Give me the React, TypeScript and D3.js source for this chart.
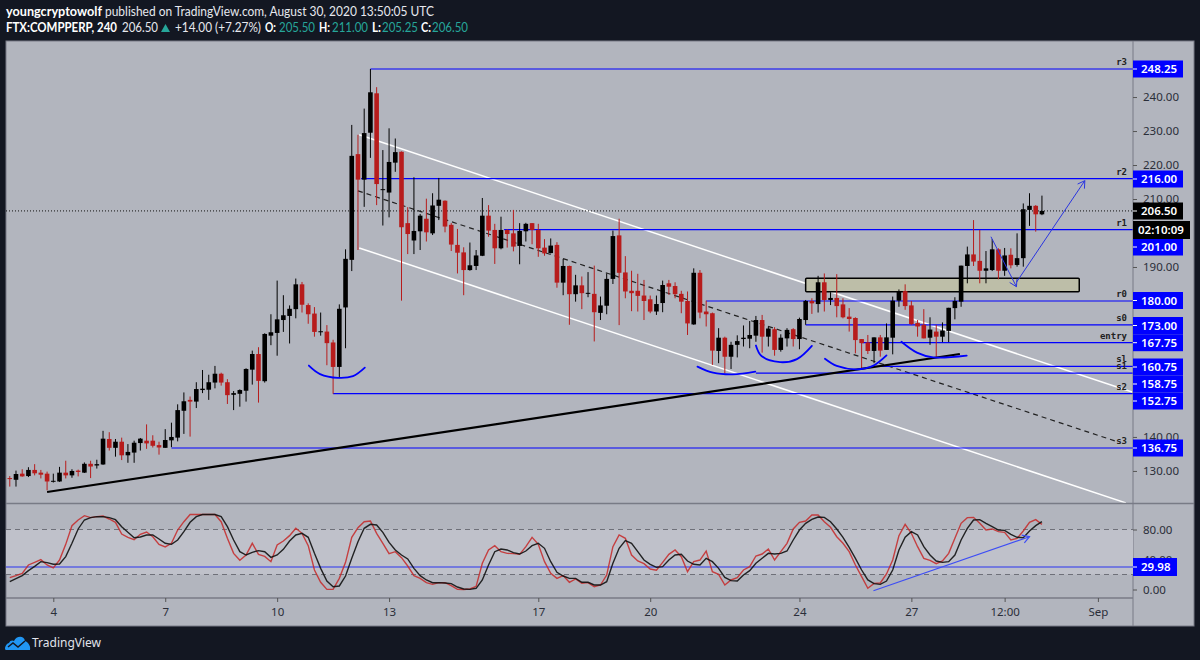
import React, { useEffect, useRef } from "react";
import * as d3 from "d3";

// bar 0 is Aug 4 00:00, one bar every 4 hours
const firstBar = -7;

const opens = [127.9,127.4,129.2,128.5,130.3,129.5,129.2,
  126.9,126.9,129.5,128.7,130.1,129.5,132.1,131.6,131.9,139.4,
  136.8,138.6,134.6,135.4,138.2,138.9,138.9,137.6,136.8,139,
  139.8,147.7,150.9,150.4,153.8,153.9,156,158.6,156.1,152.4,
  152.7,153.6,159.8,164.4,156.4,169.8,170.6,174.4,175.6,177.6,
  184.9,178.8,176.3,170.8,171,167.8,160.6,178.1,192.1,223.2,
  215.7,229.5,241.1,212.7,211.9,220.7,223.9,202.9,197.8,200.5,
  204.2,199.9,208,209.5,202.4,196.5,194.3,189.1,190.3,193.3,
  205.1,200.9,195.5,200.9,199.9,196.2,200.5,202.9,200.9,195.7,
  194.1,196.5,185.4,190.3,182,184.6,182.1,182.1,176.5,178.6,
  186.5,199.3,188.4,183,183,181.6,180.5,176.9,179.4,185.2,
  184.4,182.1,180,173.1,188.3,176.9,176.4,165.3,169.2,163.6,
  167.1,168.8,168.9,169.8,174.4,169.5,171.7,165.6,169,171.7,
  168.8,174.4,180,179.1,185.5,180.3,180.9,179,175.4,175,
  168.8,167.8,165.3,169.3,165.6,169.2,180.1,182.9,178.7,173.5,
  173,169.2,171,169.5,171.2,177.9,179.8,190.3,193.7,191.8,
  188.9,189.1,195.2,188.9,193.6,190.6,192.6,206.8,208,205.5];

const highs = [128.5,130.1,130.5,131.1,132,130.3,129.8,
  129.2,131.2,133,130.5,130.4,132.5,133,133.3,141.8,141.4,
  139.4,139.8,137.9,138.9,139.7,143.7,140.5,138.6,142.3,144.2,
  149.6,153.1,151.9,156.1,159.7,158.3,160.9,158.9,157,153.5,
  154,160.2,165.4,166.4,170.5,176.1,186,181.7,178.7,186.6,
  185.6,179.3,178.2,176.6,172.9,168.6,179,195.2,231.8,228.9,
  236.6,248.25,242.9,224.4,230.8,227.8,224,207.6,216.4,205.6,
  210.1,211.7,216.2,209.6,202.9,201.2,195.8,197.2,195,210.3,
  208.2,202.7,204.8,201.1,206.8,202.9,203,202.9,202.7,198.2,
  198.4,197.3,192.4,190.4,187.7,187.2,188.5,190.4,181.3,188.1,
  200.7,204.2,193.2,188.9,188,186.2,181.6,181.6,186,186.2,
  185.5,183,182.8,189.6,189.1,180.1,176.6,172,169.5,168,
  169.9,172.8,174.1,175.6,175.9,172.5,172.3,170.2,172,172,
  175.1,180.3,180.8,187.4,188.1,182.6,187.9,180.8,177.9,175.2,
  168.8,170,169.3,170,173.4,181.3,183.4,184.9,180,174.4,
  177.6,175.2,173,173.7,178,181.1,190.4,196,203.8,200.9,
  194.7,198.2,195.5,195.6,195.5,199.9,208.7,211.7,208.2,211];

const lows = [125.4,125.4,128.3,128.2,128.7,127.8,124.3,
  126.6,126.8,127.8,128,128.4,129.4,127.9,130.7,131.8,136,
  134.2,133.2,132.4,132.4,136,136.5,136.9,134.8,136.8,137,
  138.7,140.9,140.1,148.5,152.9,150.9,154.3,155.1,149.7,147.9,
  148.9,150.4,155.4,150.1,156,167,163.9,170.9,167.5,174.9,
  176.6,173.3,169.5,169.8,161.1,152.7,157.6,166.1,188.8,195,
  207.7,222.1,208.2,202.2,204.6,218,180.1,193.8,193.8,195,
  197.5,199.4,203.8,200.2,194.7,188.1,181.7,188.9,189.1,193.2,
  198.9,190.9,195.2,195.7,194.6,190.8,197.5,196.7,193,193.3,
  194,183.9,181.7,173,179.8,177.6,181.1,168.1,174.4,176.1,
  185,172.9,180.8,177,176.9,174.4,176.4,175.9,176.7,181.8,
  180.8,176.4,170,173,174.9,172.5,161.2,161.7,158.7,160,
  163.4,166.6,166.1,168,164.8,166.6,163.9,165.1,166.6,166.6,
  165.8,173,176.2,176.6,176.9,178.8,175.2,174.9,171,164.6,
  160.2,164.4,161.7,163.6,165.6,164.3,178.3,177.4,173,169.5,
  169,167.1,163.6,167.9,167.9,174.6,178.3,185.2,190.3,185.2,
  185.2,188.8,186.4,187.4,189.6,190.1,190.1,202.1,200.4,205.25];

const closes = [127.6,129.1,128.4,130.3,129.3,128.9,126.9,
  127.1,129.5,128.7,130,129.7,132.1,131.3,132,139.5,136.8,
  138.6,134.6,135.6,138.3,139.5,138.1,137.4,136.9,139.1,140,
  147.9,150.5,150.4,154.1,154.2,156.1,158.6,156,152.3,152.9,
  153.8,160,164.4,156.5,170.3,170.8,174.6,175.8,177.7,184.9,
  178.9,176.1,170.9,171.1,167.6,160.6,177.7,192.4,222.7,215.7,
  229.4,241.4,214.4,212.9,220.9,223.8,201.7,199.7,200.6,205.1,
  200.2,208.1,209.8,201.9,196.6,194.2,189.1,190.5,193.4,205.1,
  200.7,195.5,200.9,199.7,196,200.6,202.7,200.9,195.5,194,
  196.3,185.4,190.3,182,184.6,182.3,182.4,176.7,178.7,186.5,
  199.1,188.3,182.8,182.3,181.5,180,176.9,179.1,184.7,184.2,
  182,179.8,173.4,188.3,176.6,176.1,165.4,169.2,163.6,167.1,
  168.2,169.2,170,174.4,169.5,171.9,165.6,169.2,171.5,168.8,
  174.7,180,179.3,185.5,180.3,180.9,178.5,175.2,174.7,168.5,
  167.6,165.3,169.3,165.4,169.3,180.1,182.7,178.5,173.2,172.5,
  169,171.6,169.5,171.3,178,180,190.4,193.7,191.6,188.9,
  189.6,195.2,188.9,193.4,190.5,192.6,207,208,205.5,206.5];

const stochK = [15.8,18.5,21.6,32.7,36.2,39.8,32.7,28.7,39.3,60.2,85.1,92.7,98.4,95.8,97.1,98,94,
  89.5,74,69.6,66.4,73.6,76.7,70.4,60.2,56.7,61.6,79.3,90.4,100,100,100,100,100,90.4,68.2,48.2,
  38.9,46,61.6,46.9,44.2,37.1,59.3,64.7,71.8,81.6,
  74.9,58.4,26,9.6,0.2,0.2,14.9,36.2,69.6,82.4,90.4,91.3,74.9,61.6,47.8,50.4,42.4,31.3,18.5,14.9,
  9.1,6.9,9.1,9.1,5.1,0.2,0,0.7,4.2,34.9,52.7,58.4,50.4,48.2,47.8,46.9,57.1,69.6,60.2,37.1,21.6,
  14.9,18.5,9.6,14,8.2,9.1,3.8,
  6,19.3,57.1,72.7,68.2,46,38,34.4,27.3,25.6,36.2,46.9,52.7,43.8,23.8,37.1,39.3,51.3,23.8,20.2,
  6,12.7,15.8,26,30.4,44.7,47.3,54,39.3,50.4,61.6,80.7,89.6,91.3,99.3,99.3,90.4,82.9,70.4,61.6,
  50.4,32.7,17.1,1.6,8.2,8.7,20.7,39.3,71.8,
  86.9,74.9,57.1,41.6,38.9,34.4,38,48.2,68.2,88.2,95.8,96.2,88.2,79.3,80.7,77.1,76.2,66,68.2,78,89.6,93.1,86.9];

const stochD = [10.4,14.4,18.5,25.1,30.9,37.1,35.8,33.6,34,43.8,61.6,80.7,92.7,95.8,97.1,97.1,95.8,
  93.1,83.8,76.2,69.1,70,72.7,72.7,67.3,61.6,60.2,66,77.1,89.6,97.1,100,100,100,97.1,83.8,66,
  50.4,46,49.6,51.8,50.4,42.9,46,53.6,64.7,72.7,
  74.9,69.6,48.2,28.2,11.3,3.8,4.7,18,41.6,63.8,81.6,86.9,86,76.2,62.9,52.7,46,40.7,28.2,18.5,
  12.7,9.1,9.1,8.7,7.8,3.3,0.7,0.2,1.6,12.7,32.7,50.4,54,52.7,49.1,47.3,51.3,58.4,61.6,54.9,37.1,
  22.9,18,14.9,14.9,9.6,9.6,6,
  6,10.4,34.9,54.9,65.1,61.6,50.4,39.3,33.6,29.6,30.4,39.3,46,46.9,38,33.6,32.7,41.6,37.1,28.2,
  16.2,11.8,11.3,19.3,25.1,34.9,41.6,48.2,47.3,48.2,51.3,66,79.3,88.2,93.6,96.7,96.2,90.4,80.7,69.6,
  56.2,41.6,26,12.7,7.8,6.9,11.3,26,52.7,
  69.6,77.1,72.7,57.1,46,38,36.2,37.1,46,66,81.6,92.7,93.1,88.2,83.8,79.3,78.9,73.6,69.6,69.1,78,85.1,90.4];

// horizontal levels
const levelValues = [248.25, 216, 201, 180, 173, 167.75, 160.75, 158.75, 152.75, 136.75];
const levelStartBars = [51, 49.5, 72.5, 105, 121, 130, 132, 113, 45, 19];
const levelNames = ["r3", "r2", "r1", "r0", "s0", "entry", "sl", "s1", "s2", "s3"];
const levelTagsText = ["248.25", "216.00", "201.00", "180.00", "173.00", "167.75", "160.75", "158.75", "152.75", "136.75"];

const lastPrice = 206.5;
const priceTicks = [240, 230, 220, 210, 190, 140, 130];
const stochTicks = [80, 40, 0];
const stochLevel = 29.98;

const timeTickBars = [0, 18, 36, 54, 78, 96, 120, 138, 153, 168];
const timeTickLabels = ["4", "7", "10", "13", "17", "20", "24", "27", "12:00", "Sep"];

// drawn trendlines, [bar, price] pairs
const channelUpper = [[49.2, 228.9], [173.5, 153.2]];
const channelLower = [[49.2, 195.6], [172.5, 120.6]];
const channelMiddle = [[49, 212.4], [170.8, 138.8]];
const supportLine = [[-1, 123.8], [145.8, 164.4]];
const zoneBars = [121, 165];
const zonePrices = [186.7, 182.7];

const arcs = [
  [[41.1, 161], [42.9, 158.5], [45.8, 157.4], [48.2, 157.9], [50.1, 160.4]],
  [[103.6, 160.7], [106.1, 158.9], [109.3, 158.4], [112.9, 159.2]],
  [[113, 166.9], [113.9, 163.8], [116.9, 162], [119.6, 162.9], [122, 166.8]],
  [[124.1, 163], [126, 160.9], [129.2, 159.9], [131.8, 160.9], [134, 164]],
  [[136.4, 168], [138.9, 164.8], [141.5, 163.4], [146.9, 163.9]],
];
const arrowDown = [[150.8, 198.9], [154.9, 184.2]];
const arrowUp = [[154.9, 185.5], [165.9, 215.4]];
const stochArrow = [[131.9, -1.6], [157, 70.4]];

const W = 1200;
const H = 660;
const paneLeft = 6;
const axisX = 1133;
const panelRight = 1194;
const mainTop = 41;
const mainBottom = 503;
const stochBottom = 598;
const panelBottom = 626;

const uiFont = "'Noto Sans', sans-serif";
const headFont = "Lato, sans-serif";
const bg = "#131722";
const paneFill = "#b2b5be";
const lineBlue = "#0000ff";
const candleRed = "#b71c1c";

export default function App() {
  const ref = useRef<SVGSVGElement | null>(null);

  useEffect(() => {
    document.body.style.margin = "0";
    const svg = d3.select(ref.current);
    svg.selectAll("*").remove();

    const x = d3.scaleLinear().domain([0, 168]).range([53.3, 1097.9]);
    const y = d3.scaleLinear().domain([248.25, 136.75]).range([69, 448]);
    const ys = d3.scaleLinear().domain([100, 0]).range([514.5, 589.5]);
    const bars = d3.range(opens.length).map((i) => i + firstBar);

    svg.append("rect").attr("width", W).attr("height", H).attr("fill", bg);
    svg.append("rect")
      .attr("x", paneLeft).attr("y", mainTop)
      .attr("width", panelRight - paneLeft).attr("height", panelBottom - mainTop)
      .attr("fill", paneFill).attr("stroke", "#787b86");

    const defs = svg.append("defs");
    defs.append("clipPath").attr("id", "main-clip").append("rect")
      .attr("x", paneLeft).attr("y", mainTop).attr("width", axisX - paneLeft).attr("height", mainBottom - mainTop);
    defs.append("clipPath").attr("id", "stoch-clip").append("rect")
      .attr("x", paneLeft).attr("y", mainBottom).attr("width", axisX - paneLeft).attr("height", stochBottom - mainBottom);

    const main = svg.append("g").attr("clip-path", "url(#main-clip)");
    const pt = d3.line<number[]>().x((d) => x(d[0])).y((d) => y(d[1]));

    // channel + trendlines
    main.append("path").attr("d", pt(channelUpper)).attr("stroke", "#fff").attr("stroke-width", 1.5).attr("fill", "none");
    main.append("path").attr("d", pt(channelLower)).attr("stroke", "#fff").attr("stroke-width", 1.5).attr("fill", "none");
    main.append("path").attr("d", pt(channelMiddle)).attr("stroke", "#222").attr("stroke-width", 1.2)
      .attr("stroke-dasharray", "5 4").attr("fill", "none");

    // horizontal levels
    main.selectAll("line.level").data(levelValues).enter().append("line")
      .attr("class", "level")
      .attr("x1", (d, i) => x(levelStartBars[i])).attr("x2", axisX)
      .attr("y1", (d) => y(d)).attr("y2", (d) => y(d))
      .attr("stroke", lineBlue).attr("stroke-width", 1.2);
    main.selectAll("text.level-name").data(levelNames).enter().append("text")
      .attr("class", "level-name")
      .attr("x", 1127).attr("y", (d, i) => y(levelValues[i]) - 4)
      .attr("text-anchor", "end")
      .attr("font-family", "'DejaVu Sans Mono', monospace").attr("font-weight", 700)
      .attr("font-size", 9).attr("fill", "#222")
      .text((d) => d);

    // last price
    main.append("line")
      .attr("x1", paneLeft).attr("x2", axisX).attr("y1", y(lastPrice)).attr("y2", y(lastPrice))
      .attr("stroke", "#111").attr("stroke-dasharray", "1 2");

    // supply zone
    main.append("rect")
      .attr("x", x(zoneBars[0])).attr("y", y(zonePrices[0]))
      .attr("width", x(zoneBars[1]) - x(zoneBars[0])).attr("height", y(zonePrices[1]) - y(zonePrices[0]))
      .attr("rx", 1).attr("fill", "#bdbea8").attr("stroke", "#000").attr("stroke-width", 1.5);

    // candles
    const candles = main.selectAll("g.candle").data(bars).enter().append("g").attr("class", "candle");
    const col = (i: number) => (closes[i] >= opens[i] ? "#000" : candleRed);
    candles.append("line")
      .attr("x1", (b) => x(b)).attr("x2", (b) => x(b))
      .attr("y1", (b, i) => y(highs[i])).attr("y2", (b, i) => y(lows[i]))
      .attr("stroke", (b, i) => col(i)).attr("stroke-width", 1);
    candles.append("rect")
      .attr("x", (b) => x(b) - 2.3).attr("width", 4.6)
      .attr("y", (b, i) => y(Math.max(opens[i], closes[i])))
      .attr("height", (b, i) => Math.max(1, Math.abs(y(opens[i]) - y(closes[i]))))
      .attr("fill", (b, i) => col(i));

    // support line over the candles
    main.append("path").attr("d", pt(supportLine)).attr("stroke", "#000").attr("stroke-width", 2.2).attr("fill", "none");

    // hand drawn arcs
    const arcLine = d3.line<number[]>().x((d) => x(d[0])).y((d) => y(d[1])).curve(d3.curveCatmullRom.alpha(0.5));
    main.selectAll("path.arc").data(arcs).enter().append("path")
      .attr("class", "arc").attr("d", (d) => arcLine(d))
      .attr("fill", "none").attr("stroke", lineBlue).attr("stroke-width", 1.8).attr("stroke-linecap", "round");

    // arrows
    const arrow = (g: any, from: number[], to: number[], color: string, width: number) => {
      const a = Math.atan2(to[1] - from[1], to[0] - from[0]);
      const head = 8;
      const p = [
        [to[0] + head * Math.cos(a + 2.6), to[1] + head * Math.sin(a + 2.6)],
        to,
        [to[0] + head * Math.cos(a - 2.6), to[1] + head * Math.sin(a - 2.6)],
      ];
      const line = d3.line();
      g.append("path").attr("d", line([from as [number, number], to as [number, number]]))
        .attr("stroke", color).attr("stroke-width", width).attr("fill", "none");
      g.append("path").attr("d", line(p as [number, number][]))
        .attr("stroke", color).attr("stroke-width", width).attr("fill", "none");
    };
    arrow(main, [x(arrowDown[0][0]), y(arrowDown[0][1])], [x(arrowDown[1][0]), y(arrowDown[1][1])], "#2a35e0", 1);
    arrow(main, [x(arrowUp[0][0]), y(arrowUp[0][1])], [x(arrowUp[1][0]), y(arrowUp[1][1])], "#2a35e0", 1);

    // pane borders
    svg.append("line").attr("x1", paneLeft).attr("x2", panelRight).attr("y1", mainBottom + 0.5).attr("y2", mainBottom + 0.5)
      .attr("stroke", "#787b86").attr("stroke-width", 1.5);
    svg.append("line").attr("x1", paneLeft).attr("x2", axisX).attr("y1", stochBottom).attr("y2", stochBottom)
      .attr("stroke", "#787b86").attr("stroke-width", 1.5);
    svg.append("line").attr("x1", axisX).attr("x2", axisX).attr("y1", mainTop).attr("y2", panelBottom)
      .attr("stroke", "#787b86");

    // stochastic pane
    const stoch = svg.append("g").attr("clip-path", "url(#stoch-clip)");
    stoch.append("rect")
      .attr("x", paneLeft).attr("width", axisX - paneLeft)
      .attr("y", ys(80)).attr("height", ys(20) - ys(80))
      .attr("fill", "#bfc1ca");
    [80, 20].forEach((v) => {
      stoch.append("line").attr("x1", paneLeft).attr("x2", axisX).attr("y1", ys(v)).attr("y2", ys(v))
        .attr("stroke", "#6e7079").attr("stroke-dasharray", "5 4");
    });
    stoch.append("line").attr("x1", paneLeft).attr("x2", axisX).attr("y1", ys(stochLevel)).attr("y2", ys(stochLevel))
      .attr("stroke", "#2a35f0").attr("stroke-width", 1.2);
    const stochLine = (vals: number[]) => d3.line<number>().x((d, i) => x(bars[i])).y((d) => ys(d))(vals);
    stoch.append("path").attr("d", stochLine(stochK)).attr("fill", "none").attr("stroke", "#c62828").attr("stroke-opacity", 0.85).attr("stroke-width", 1.4);
    stoch.append("path").attr("d", stochLine(stochD)).attr("fill", "none").attr("stroke", "#111").attr("stroke-opacity", 0.9).attr("stroke-width", 1.4);
    arrow(stoch, [x(stochArrow[0][0]), ys(stochArrow[0][1])], [x(stochArrow[1][0]), ys(stochArrow[1][1])], "#3d4df5", 1.2);

    // axes
    const styleAxis = (g: any) => {
      g.select(".domain").remove();
      g.selectAll("line").attr("stroke", "#555");
      g.selectAll("text").attr("fill", "#2a2e39").attr("font-family", uiFont).attr("font-size", 11.5);
    };
    svg.append("g").attr("transform", `translate(${axisX},0)`)
      .call(d3.axisRight(y).tickValues(priceTicks).tickSize(4).tickPadding(6).tickFormat(d3.format(".2f")))
      .call(styleAxis);
    svg.append("g").attr("transform", `translate(${axisX},0)`)
      .call(d3.axisRight(ys).tickValues(stochTicks).tickSize(4).tickPadding(6).tickFormat(d3.format(".2f")))
      .call(styleAxis);
    svg.append("g").attr("transform", `translate(0,${stochBottom})`)
      .call(d3.axisBottom(x).tickValues(timeTickBars).tickSize(4).tickPadding(6).tickFormat((d, i) => timeTickLabels[i]))
      .call(styleAxis);

    // price tags on the axis, pushed apart where they would collide
    const tagCenters = [69, 179, 247, 300.5, 325.5, 342.7, 367, 384, 401, 448];
    const tag = (cy: number, h: number, label: string, fill: string, w = 50) => {
      svg.append("rect").attr("x", axisX).attr("y", cy - h / 2).attr("width", w).attr("height", h).attr("fill", fill);
      svg.append("line").attr("x1", axisX).attr("x2", axisX + 4).attr("y1", cy).attr("y2", cy).attr("stroke", "#fff");
      svg.append("text").attr("x", axisX + 8).attr("y", cy + 4.2)
        .attr("font-family", uiFont).attr("font-size", 11.5).attr("font-weight", 600).attr("fill", "#fff")
        .text(label);
    };
    levelTagsText.forEach((t, i) => tag(tagCenters[i], 17, t, lineBlue));
    tag(211, 17, "206.50", "#000");
    svg.append("rect").attr("x", axisX).attr("y", 221).attr("width", 57).attr("height", 18).attr("fill", "#000");
    svg.append("text").attr("x", axisX + 5).attr("y", 234.2)
      .attr("font-family", uiFont).attr("font-size", 11.5).attr("font-weight", 600).attr("fill", "#fff").text("02:10:09");
    tag(567, 18, "29.98", lineBlue, 44);

    // header, squeezed to the widths in the screenshot
    const head = svg.append("g").attr("font-family", headFont).attr("font-size", 12.5).attr("fill", "#fff");
    const headText = (tx: number, ty: number, w: number, label: string, fill: string, bold = false) => {
      head.append("text").attr("x", tx).attr("y", ty).attr("fill", fill)
        .attr("font-weight", bold ? 700 : 400)
        .attr("textLength", w).attr("lengthAdjust", "spacingAndGlyphs")
        .text(label);
    };
    const white = "#e6e8ee";
    const teal = "#26a69a";
    headText(6, 16, 96, "youngcryptowolf", "#fff", true);
    headText(105, 16, 329, "published on TradingView.com, August 30, 2020 13:50:05 UTC", white);
    headText(6, 32, 111, "FTX:COMPPERP, 240", "#fff", true);
    headText(122, 32, 36, "206.50", white);
    head.append("path").attr("d", d3.line()([[161, 32], [170, 32], [165.5, 24], [161, 32]])).attr("fill", teal);
    headText(175, 32, 86, "+14.00 (+7.27%)", white);
    headText(265, 32, 11, "O:", "#fff", true);
    headText(279, 32, 36, "205.50", teal);
    headText(319, 32, 11, "H:", "#fff", true);
    headText(332, 32, 36, "211.00", teal);
    headText(372, 32, 9, "L:", "#fff", true);
    headText(382, 32, 36, "205.25", teal);
    headText(421, 32, 10, "C:", "#fff", true);
    headText(432, 32, 36, "206.50", teal);

    // logo
    const logo = svg.append("g").attr("transform", "translate(5,635)");
    logo.append("path")
      .attr("d", "M1 15 C-1 15 0 9 4 8 C5 5 8 5 9 6 C11 1 19 0 20 6 C23 7 26 11 25 15 Z")
      .attr("fill", "#2196f3");
    logo.append("path").attr("d", "M3 12 L8 8 L13 12 L20 6").attr("fill", "none").attr("stroke", bg).attr("stroke-width", 1.5);
    svg.append("text").attr("x", 32).attr("y", 647).attr("font-family", uiFont).attr("font-size", 12).attr("fill", "#e0e3eb").text("TradingView");
  }, []);

  return <svg ref={ref} width={W} height={H} style={{ display: "block" }} />;
}
